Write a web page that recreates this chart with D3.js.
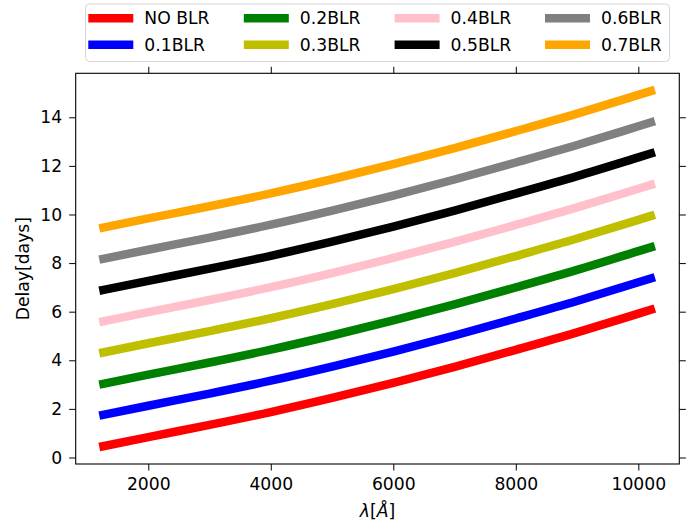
<!DOCTYPE html>
<html><head><meta charset="utf-8">
<script src="https://cdn.jsdelivr.net/npm/d3@7"></script>
<style>body{margin:0;background:#fff}svg{display:block;font-family:"DejaVu Sans",sans-serif}</style>
</head><body><svg id="c" width="697" height="526"></svg>
<script>
const wavelengths = [1200, 2000, 3000, 4000, 5000, 6000, 7000, 8000, 9000, 10000, 10270];
const seriesNames = ["NO BLR","0.1BLR","0.2BLR","0.3BLR","0.4BLR","0.5BLR","0.6BLR","0.7BLR"];
const seriesColors = ["#ff0000","#0000ff","#008000","#bfbf00","#ffc0cb","#000000","#808080","#ffa500"];
const noBLR  = [0.43, 0.84, 1.34, 1.87, 2.45, 3.07, 3.73, 4.43, 5.15, 5.92, 6.13];
const blr01  = [1.72, 2.13, 2.63, 3.16, 3.74, 4.36, 5.02, 5.72, 6.44, 7.21, 7.42];
const blr02  = [3.00, 3.41, 3.91, 4.44, 5.02, 5.64, 6.30, 7.00, 7.72, 8.49, 8.70];
const blr03  = [4.29, 4.70, 5.20, 5.73, 6.31, 6.93, 7.59, 8.29, 9.01, 9.78, 9.99];
const blr04  = [5.57, 5.98, 6.48, 7.01, 7.59, 8.21, 8.87, 9.57, 10.29, 11.06, 11.27];
const blr05  = [6.86, 7.27, 7.77, 8.30, 8.88, 9.50, 10.16, 10.86, 11.58, 12.35, 12.56];
const blr06  = [8.14, 8.55, 9.05, 9.58, 10.16, 10.78, 11.44, 12.14, 12.86, 13.63, 13.84];
const blr07  = [9.43, 9.84, 10.34, 10.87, 11.45, 12.07, 12.73, 13.43, 14.15, 14.92, 15.13];
const seriesValues = [noBLR, blr01, blr02, blr03, blr04, blr05, blr06, blr07];
const xTicks = [2000, 4000, 6000, 8000, 10000];
const yTicks = [0, 2, 4, 6, 8, 10, 12, 14];

const svg = d3.select("#c");
const L = 75.7, R = 679.3, T = 73.3, B = 464;
const x = d3.scaleLinear().domain([815, 10669]).range([L, R]);
const y = d3.scaleLinear().domain([-0.268, 15.81]).range([B, T]);
const FS = 17.2;

// lines
const line = d3.line().x((d, i) => x(wavelengths[i])).y(d => y(d)).curve(d3.curveMonotoneX);
const plot = svg.append("g");
seriesValues.forEach((vals, k) => {
  plot.append("path").attr("d", line(vals)).attr("fill", "none")
    .attr("stroke", seriesColors[k]).attr("stroke-width", 8.5).attr("stroke-linecap", "butt");
});

// axes
function styleAxis(g, hideText) {
  g.select(".domain").remove();
  g.selectAll(".tick line").attr("stroke", "#000").attr("stroke-width", 1);
  g.selectAll(".tick text").attr("font-size", FS).attr("fill", "#000").attr("font-family", "DejaVu Sans");
  if (hideText) g.selectAll(".tick text").remove();
}
svg.append("g").attr("transform", `translate(0,${B})`)
  .call(d3.axisBottom(x).tickValues(xTicks).tickSize(6.5).tickPadding(7).tickFormat(d3.format("d")))
  .call(g => styleAxis(g, false));
svg.append("g").attr("transform", `translate(0,${T})`)
  .call(d3.axisTop(x).tickValues(xTicks).tickSize(6.5)).call(g => styleAxis(g, true));
svg.append("g").attr("transform", `translate(${L},0)`)
  .call(d3.axisLeft(y).tickValues(yTicks).tickSize(6.5).tickPadding(7).tickFormat(d3.format("d")))
  .call(g => styleAxis(g, false));
svg.append("g").attr("transform", `translate(${R},0)`)
  .call(d3.axisRight(y).tickValues(yTicks).tickSize(6.5)).call(g => styleAxis(g, true));
svg.append("rect").attr("x", L).attr("y", T).attr("width", R - L).attr("height", B - T)
  .attr("fill", "none").attr("stroke", "#000").attr("stroke-width", 1.1);

// labels
svg.append("text").attr("x", (L + R) / 2).attr("y", 517).attr("text-anchor", "middle")
  .attr("font-size", FS).attr("font-family", "DejaVu Sans")
  .html('<tspan font-style="italic">λ</tspan>[<tspan font-style="italic">Å</tspan>]');
svg.append("text").attr("transform", `translate(29,${(T + B) / 2}) rotate(-90)`)
  .attr("text-anchor", "middle").attr("font-size", FS).text("Delay[days]");

// legend
const lg = svg.append("g");
lg.append("rect").attr("x", 85.5).attr("y", 4).attr("width", 584).attr("height", 57.5)
  .attr("rx", 4).attr("fill", "#fff").attr("fill-opacity", 0.8).attr("stroke", "#d6d6d6").attr("stroke-width", 1);
const colX = [88.3, 243.8, 394.6, 545];
const rowY = [18.2, 44.8];
seriesNames.forEach((n, k) => {
  const c = Math.floor(k / 2), r = k % 2;
  lg.append("line").attr("x1", colX[c]).attr("x2", colX[c] + 45)
    .attr("y1", rowY[r]).attr("y2", rowY[r]).attr("stroke", seriesColors[k]).attr("stroke-width", 8.5);
  lg.append("text").attr("x", colX[c] + 56).attr("y", rowY[r] + 6.2)
    .attr("font-size", FS).attr("fill", "#000").text(n);
});
</script></body></html>
